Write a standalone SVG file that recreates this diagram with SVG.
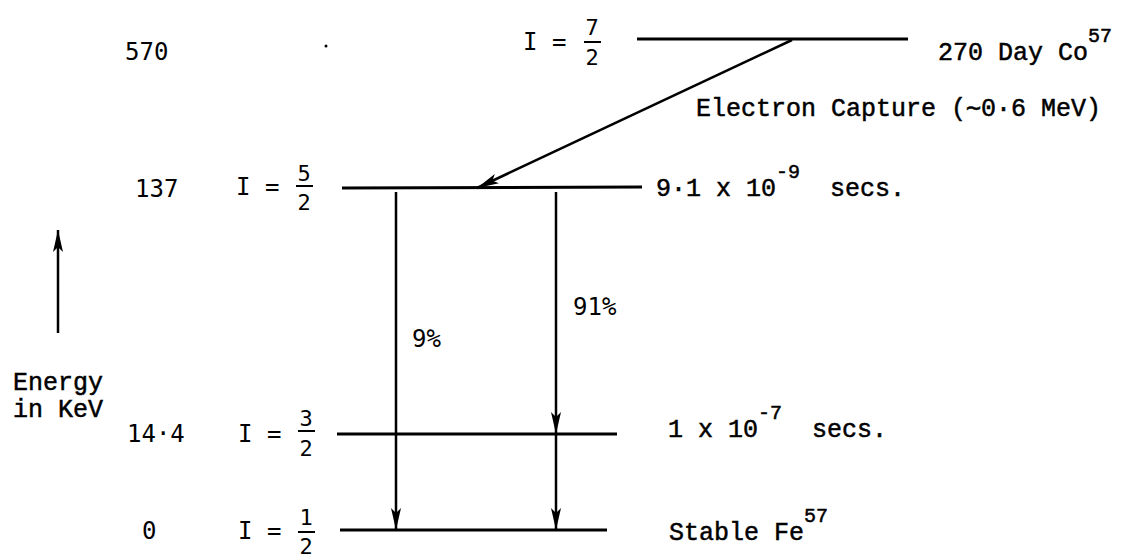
<svg xmlns="http://www.w3.org/2000/svg" width="1132" height="554" viewBox="0 0 1132 554">
<style>
.t{font-family:"Liberation Mono","Courier New",monospace;font-size:25px;fill:#000;stroke:#000;stroke-width:0.5}
.s{font-family:"DejaVu Sans Mono","Liberation Mono",monospace;font-size:24px;fill:#000}
.f{font-family:"DejaVu Sans Mono","Liberation Mono",monospace;font-size:22px;fill:#000;text-anchor:middle}
.sup{font-size:20px}
.lvl{stroke:#000;stroke-width:3;fill:none}
.bar{stroke:#000;stroke-width:2}
.arr{stroke:#000;stroke-width:2.5;fill:none}
</style>
<defs>
<marker id="ah" markerWidth="24" markerHeight="12" refX="22" refY="6" orient="auto" markerUnits="userSpaceOnUse">
<path d="M0,1 L22,6 L0,11 L5,6 Z" fill="#000"/>
</marker>
</defs>
<rect width="1132" height="554" fill="#fff"/>
<g id="axis">
<line x1="58" y1="333" x2="58" y2="230" class="arr" marker-end="url(#ah)"/>
<text x="13" y="390" class="t">Energy</text>
<text x="13" y="417" class="t">in KeV</text>
</g>
<g id="level-570">
<text x="125" y="60" class="s">570</text>
<circle cx="326" cy="46" r="1.5" fill="#000"/>
<text x="523" y="50" class="s">I = </text>
<text x="592" y="35" class="f">7</text>
<line x1="584" y1="42" x2="601" y2="42" class="bar"/>
<text x="592" y="65" class="f">2</text>
<line x1="637" y1="39" x2="908" y2="39" class="lvl"/>
<text x="938" y="60" class="t">270 Day Co<tspan dy="-18" class="sup">57</tspan></text>
</g>
<g id="level-137">
<text x="135" y="197" class="s">137</text>
<text x="236" y="195" class="s">I = </text>
<text x="304" y="181" class="f">5</text>
<line x1="296" y1="186" x2="313" y2="186" class="bar"/>
<text x="304" y="210" class="f">2</text>
<line x1="342" y1="188" x2="642" y2="187" class="lvl"/>
<text x="656" y="196" class="t">9·1 x 10<tspan dy="-18" class="sup">-9</tspan><tspan x="830" dy="18">secs.</tspan></text>
</g>
<g id="level-14">
<text x="127" y="442" class="s">14·4</text>
<text x="238" y="442" class="s">I = </text>
<text x="306" y="426" class="f">3</text>
<line x1="298" y1="431" x2="315" y2="431" class="bar"/>
<text x="306" y="456" class="f">2</text>
<line x1="337" y1="434" x2="617" y2="434" class="lvl"/>
<text x="668" y="437" class="t">1 x 10<tspan dy="-18" class="sup">-7</tspan><tspan x="812" dy="18">secs.</tspan></text>
</g>
<g id="level-0">
<text x="142" y="539" class="s">0</text>
<text x="238" y="539" class="s">I = </text>
<text x="306" y="525" class="f">1</text>
<line x1="298" y1="532" x2="315" y2="532" class="bar"/>
<text x="306" y="554" class="f">2</text>
<line x1="340" y1="530" x2="607" y2="530" class="lvl"/>
<text x="669" y="540" class="t">Stable Fe<tspan dy="-18" class="sup">57</tspan></text>
</g>
<g id="connectors">
<line x1="792" y1="40" x2="477" y2="188" class="arr" marker-end="url(#ah)"/>
<text x="696" y="116" class="t">Electron Capture (∼0·6 MeV)</text>
<line x1="396" y1="192" x2="396" y2="530" class="arr" marker-end="url(#ah)"/>
<line x1="556" y1="192" x2="556" y2="434" class="arr" marker-end="url(#ah)"/>
<line x1="556" y1="434" x2="556" y2="530" class="arr" marker-end="url(#ah)"/>
<text x="412" y="347" class="s">9%</text>
<text x="573" y="315" class="s">91%</text>
</g>
</svg>
